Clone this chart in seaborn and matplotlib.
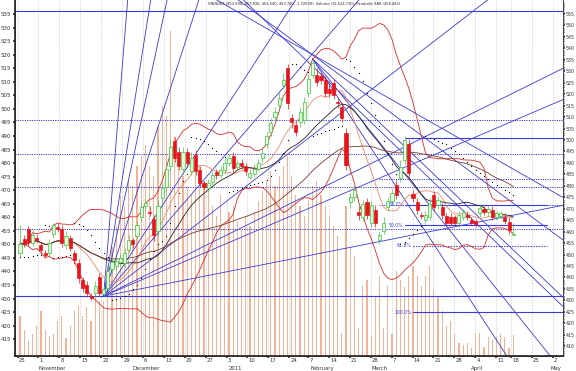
import numpy as np
import pandas as pd
import matplotlib
matplotlib.use("Agg")
import matplotlib.pyplot as plt
import seaborn as sns
from matplotlib.transforms import blended_transform_factory, ScaledTranslation

title = "VNINDEX (453.590, 457.830, 453.540, 453.740, -1.72000), Volume (15,524,710), Parabolic SAR (458.465)"

opens = [447.0,452.0,455.7,450.5,452.5,449.8,447.0,446.8,454.0,456.5,
         455.7,449.8,452.3,446.8,443.0,437.0,435.0,431.0,432.0,438.0,
         431.8,434.0,441.0,442.0,443.5,443.0,448.0,451.5,453.0,460.0,
         464.0,462.0,459.3,455.0,467.0,471.0,479.0,488.0,484.0,478.0,
         484.0,477.0,483.0,477.4,472.5,470.8,473.0,476.7,475.5,477.4,
         480.0,482.6,478.5,480.0,479.0,475.0,476.0,478.0,482.0,487.0,
         491.5,497.0,501.4,508.8,515.0,496.6,494.0,495.0,496.0,506.0,
         512.5,512.5,512.0,510.6,507.5,509.5,502.5,500.6,491.0,465.6,
         467.5,462.0,460.0,465.6,458.0,462.6,451.6,455.0,463.8,466.0,
         471.9,474.5,481.0,487.0,468.6,465.6,461.0,459.0,460.0,468.3,
         464.5,463.8,460.4,460.0,460.0,458.0,460.0,461.0,459.0,458.5,
         461.5,463.0,462.0,462.6,460.0,460.5,460.0,458.2,453.59]
closes = [450.2,450.0,451.0,453.4,451.5,447.9,446.0,450.5,457.0,455.5,
          450.5,453.0,448.6,444.2,437.6,434.0,432.0,430.3,434.6,432.0,
          433.5,440.0,443.5,444.0,444.8,447.0,451.5,450.2,457.0,463.8,
          465.2,461.5,453.4,464.0,470.8,478.0,486.0,482.0,479.0,484.0,
          480.0,482.0,477.0,472.6,471.0,472.6,475.5,475.6,477.5,480.0,
          482.0,478.2,480.0,479.0,477.0,476.2,478.0,480.0,483.7,490.0,
          494.8,498.8,504.0,510.6,502.0,495.0,491.5,498.8,502.5,511.0,
          517.0,510.0,510.6,505.8,506.0,505.0,502.0,496.6,479.3,467.5,
          470.0,461.0,465.0,461.0,464.5,458.0,453.5,458.0,466.0,469.0,
          468.3,478.5,488.5,476.5,467.0,462.7,460.5,460.8,465.0,463.8,
          466.4,460.8,458.0,458.0,458.0,460.8,462.0,460.0,458.0,457.5,
          463.4,462.0,463.0,460.0,461.5,461.5,458.5,455.46,453.74]
upper_wick = [7.0,1.5,1.0,2.0,1.5,1.2,1.0,1.5,1.0,1.5,
              1.5,2.0,1.0,1.2,1.5,1.0,1.5,1.0,2.0,1.5,
              1.2,1.5,2.0,1.0,1.5,1.5,2.0,1.0,1.5,2.0,
              1.5,2.0,1.5,2.5,2.0,2.5,2.5,1.5,2.0,2.0,
              1.5,2.0,2.0,1.5,1.0,1.5,1.5,1.0,1.5,2.0,
              1.5,1.5,1.0,1.5,1.0,1.5,1.5,1.5,2.0,1.5,
              2.0,2.0,2.0,2.5,1.5,1.5,1.5,2.0,2.0,2.0,
              1.5,2.5,1.5,1.5,2.0,1.5,1.5,1.5,2.0,1.5,
              1.5,2.0,1.5,1.5,1.5,2.0,1.5,2.0,1.5,1.5,
              2.0,2.5,1.5,2.0,1.5,1.5,1.0,1.5,2.0,1.5,
              1.5,1.5,1.0,1.5,1.0,1.5,1.0,1.5,1.0,1.0,
              1.5,1.5,1.0,1.5,1.0,1.0,1.5,2.0,4.09]
lower_wick = [1.5,1.0,1.5,1.0,1.0,1.5,1.0,1.0,1.5,1.0,
              1.5,1.5,1.0,1.5,2.0,1.5,1.5,0.8,1.5,1.1,
              0.9,1.0,1.5,1.0,1.5,1.5,1.0,1.5,1.0,1.5,
              1.5,1.0,2.0,2.0,1.5,1.5,2.0,1.5,1.5,2.0,
              1.5,1.5,1.5,1.5,1.0,1.5,1.0,1.5,1.0,1.5,
              1.0,1.5,1.0,1.0,1.5,1.0,1.0,1.0,1.5,1.5,
              1.5,1.5,1.5,1.5,2.0,2.0,1.5,1.5,1.5,1.5,
              1.0,1.5,1.5,1.5,1.5,1.5,1.5,1.5,2.0,2.0,
              1.5,2.0,1.5,1.5,1.5,1.5,1.5,1.0,1.5,1.5,
              1.5,1.5,1.5,1.5,1.5,1.5,1.0,1.5,1.5,1.5,
              1.5,1.5,1.0,1.0,1.0,1.5,1.0,1.0,1.0,1.0,
              1.5,1.0,1.5,1.0,1.0,1.0,1.0,1.5,0.05]
volumes = [30,19,11,16,22,33,19,15,16,26,30,13,22,33,37,30,36,26,49,41,
           41,67,81,96,119,111,130,126,141,148,156,141,133,170,185,178,241,163,148,133,
           126,119,148,141,130,122,111,104,119,96,107,111,100,93,104,96,107,115,122,130,
           137,126,133,141,148,133,119,111,104,115,126,130,119,111,104,96,89,17,111,81,
           74,21,52,56,15,44,59,21,52,16,63,56,51,59,67,59,52,59,67,49,
           44,33,22,26,16,10,8,10,6,16,17,7,14,12,14,16,14,6,15.5]

tick_pos = [-0.6,4.4,9.4,14.4,19.4,24.4,29.4,34.4,39.4,44.4,49.4,54.4,59.4,64.4,
            68.9,73.9,78.9,83.9,88.9,93.9,98.9,103.9,108.9,113.9,117.4,122.4,127.4]
tick_labels = ["25","1","8","15","22","29","6","13","20","27","3","10","17","24",
               "7","14","21","28","7","14","21","28","4","11","18","25","2"]
month_pos = [4.5, 26.8, 50.0, 69.4, 84.2, 107.8, 126.8]
month_labels = ["November", "December", "2011", "February", "March", "April", "May"]

# drawing-tool levels
full_dotted = [495.9, 483.3, 471.2, 455.7]
right_dotted = [474.1, 464.5]
solid_levels = [536.1, 430.9]
fib_high, fib_low = 489.2, 425.0
fib_ratios = [0.0, 0.382, 0.5, 0.618, 1.0]
fib_text = ["", "38.2%", "50.0%", "61.8%", "100.0%"]
fan_origin = (20, 430.9)
fan_slopes = [19.0, 9.7, 7.2, 4.8, 2.38, 1.79, 1.19, 0.765, 0.66, 0.305]
peak_origin = (70, 518.5)
down_slopes = [-2.36, -1.93, -1.47]
extra_lines = [(60.5, 529.8, -1.48), (63.9, 525.4, -0.88), (69.4, 520.6, -1.14)]

o = np.array(opens); c = np.array(closes)
h = np.maximum(o, c) + np.array(upper_wick)
l = np.minimum(o, c) - np.array(lower_wick)
n = len(o)
idx = np.arange(n)
df = pd.DataFrame({"i": idx, "open": o, "close": c, "high": h, "low": l, "vol": volumes})
s = df["close"]
df["ma_s"] = s.rolling(10, min_periods=1).mean()
df["ma20"] = s.rolling(20, min_periods=1).mean()
df["ma50"] = s.rolling(50, min_periods=1).mean()
sd = s.rolling(20, min_periods=2).std().bfill()
df["bbu"] = df["ma20"] + 2 * sd
df["bbl"] = df["ma20"] - 2 * sd

def psar(hh, ll, af0=0.02, afmax=0.2):
    out = np.zeros(len(hh)); bull = True; af = af0; ep = hh[0]; out[0] = ll[0]
    for k in range(1, len(hh)):
        sv = out[k-1] + af * (ep - out[k-1])
        if bull:
            sv = min(sv, ll[k-1], ll[max(k-2, 0)])
            if ll[k] < sv:
                bull = False; sv = ep; ep = ll[k]; af = af0
            elif hh[k] > ep:
                ep = hh[k]; af = min(af + af0, afmax)
        else:
            sv = max(sv, hh[k-1], hh[max(k-2, 0)])
            if hh[k] > sv:
                bull = True; sv = ep; ep = hh[k]; af = af0
            elif ll[k] < ep:
                ep = ll[k]; af = min(af + af0, afmax)
        out[k] = sv
    return out
df["sar"] = psar(h, l)

sns.set_theme(style="white")
plt.rcParams["font.family"] = ["DejaVu Sans"]
fig = plt.figure(figsize=(5.76, 3.71), dpi=100)
rect = [15/576, 15/371, 548/576, 356/371]
XL = (-1.2, 129.9)
YL = (408.8, 540.2)

axv = fig.add_axes(rect)
axv.set_xlim(*XL); axv.set_ylim(0, 356/1.35)
axv.bar(df["i"], df["vol"], width=0.28, color="#f5b193", linewidth=0)
axv.axis("off")

ax = fig.add_axes(rect)
ax.patch.set_alpha(0)
ax.set_xlim(*XL); ax.set_ylim(*YL)

for t in tick_pos:
    ax.axvline(t, color="#c8c8c8", lw=0.5, ls=(0, (2, 2)), zorder=0)

blue = "#3a3ad6"
for v in full_dotted:
    ax.axhline(v, color=blue, lw=0.7, ls=(0, (1.2, 1.2)), zorder=1)
for v in right_dotted:
    ax.plot([86, XL[1]], [v, v], color=blue, lw=0.7, ls=(0, (1.2, 1.2)), zorder=1)
for v in solid_levels:
    ax.axhline(v, color=blue, lw=0.8, zorder=1)
for r, txt in zip(fib_ratios, fib_text):
    lv = fib_high - r * (fib_high - fib_low)
    style = "-" if r in (0.0, 0.382, 0.5, 1.0) else (0, (1.2, 1.2))
    x0 = 92.1 if r < 0.6 else 94.0
    x1 = XL[1] if r in (0.0, 1.0) else 126.0
    ax.plot([x0, x1], [lv, lv], color=blue, lw=0.8, ls=style, zorder=1)
    if txt:
        ax.text(x0 - 0.3, lv, txt, color=blue, fontsize=3.3, ha="right", va="center", zorder=6)

fx, fy = fan_origin
for sl in fan_slopes:
    ax.plot([fx, 140], [fy, fy + sl * (140 - fx)], color=blue, lw=0.6, zorder=2)
px, py = peak_origin
for sl in down_slopes:
    ax.plot([px, 140], [py, py + sl * (140 - px)], color=blue, lw=0.6, zorder=2)
for (ex, ey, sl) in extra_lines:
    ax.plot([ex - 30, 140], [ey - 30 * sl, ey + sl * (140 - ex)], color=blue, lw=0.6, zorder=2)

sns.lineplot(data=df, x="i", y="bbu", ax=ax, color="#d92b2b", lw=0.6, zorder=3)
sns.lineplot(data=df, x="i", y="bbl", ax=ax, color="#d92b2b", lw=0.6, zorder=3)
sns.lineplot(data=df, x="i", y="ma_s", ax=ax, color="#f08a6a", lw=0.6, zorder=3)
sns.lineplot(data=df, x="i", y="ma20", ax=ax, color="#202020", lw=0.6, zorder=3)
sns.lineplot(data=df, x="i", y="ma50", ax=ax, color="#7a3b2e", lw=0.6, zorder=3)
sns.scatterplot(data=df, x="i", y="sar", ax=ax, color="black", s=0.8, linewidth=0, zorder=4)

up = df["close"] >= df["open"]
ax.vlines(df["i"][up], df["low"][up], df["high"][up], color="#4cc44c", lw=0.5, zorder=4)
ax.vlines(df["i"][~up], df["low"][~up], df["high"][~up], color="#e01818", lw=0.5, zorder=4)
ax.bar(df["i"][up], (df["close"] - df["open"])[up].clip(lower=0.4), bottom=df["open"][up],
       width=0.75, color="#e6fbe0", edgecolor="#3cc43c", linewidth=0.5, zorder=5)
ax.bar(df["i"][~up], (df["open"] - df["close"])[~up].clip(lower=0.4), bottom=df["close"][~up],
       width=0.75, color="#e8141b", edgecolor="#e8141b", linewidth=0.5, zorder=5)

ax.set_xlabel(""); ax.set_ylabel("")
ax.set_yticks(np.arange(415, 536, 5))
ax.tick_params(axis="y", labelsize=4.0, pad=1, length=1.5, colors="#333333", left=True)
ax.set_xticks(tick_pos)
ax.set_xticklabels(tick_labels)
ax.tick_params(axis="x", labelsize=3.8, pad=0.3, length=1.5, colors="#333333", bottom=True)
off = ScaledTranslation(1.2/100, 0, fig.dpi_scale_trans)
for lab in ax.get_xticklabels():
    lab.set_ha("left")
    lab.set_transform(lab.get_transform() + off)
tr = blended_transform_factory(ax.transData, ax.transAxes)
for mp, ml in zip(month_pos, month_labels):
    ax.text(mp, -0.0345, ml, transform=tr, fontsize=3.8, ha="left", va="center", color="#333333")
ax.spines["top"].set_visible(False)
for sp in ["left", "bottom", "right"]:
    ax.spines[sp].set_color("#444444"); ax.spines[sp].set_linewidth(0.6)

axr = ax.twinx()
axr.set_ylim(405.7, 561.1)
axr.set_yticks(np.arange(410, 556, 5))
axr.set_yticks(np.arange(406, 561, 1), minor=True)
axr.tick_params(axis="y", which="major", labelsize=3.4, pad=0.5, length=1.5, colors="#333333", right=True)
axr.tick_params(axis="y", which="minor", length=0.8, right=True, color="#333333")
axr.spines["top"].set_visible(False)
axr.spines["right"].set_color("#444444"); axr.spines["right"].set_linewidth(0.6)
axr.grid(False); ax.grid(False)

ax.text(0.352, 0.988, title, transform=ax.transAxes, fontsize=2.6, ha="left", va="center", color="#222222", zorder=7)

fig.savefig("out.png", dpi=100)
